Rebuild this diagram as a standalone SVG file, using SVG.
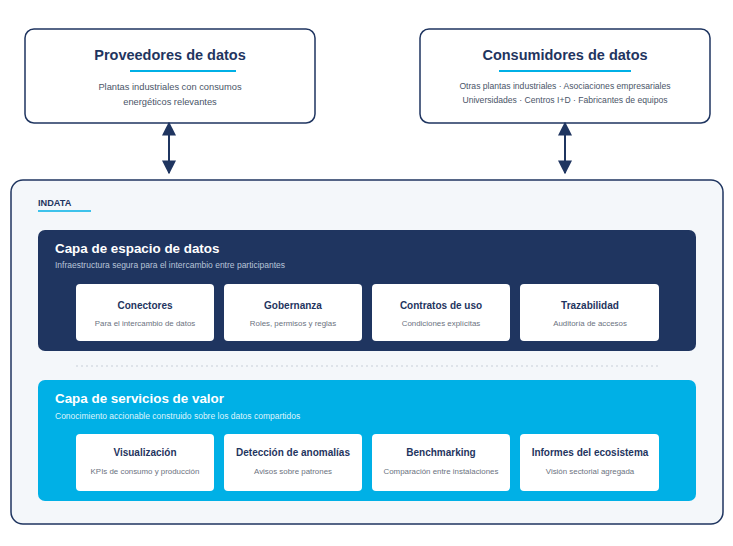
<svg xmlns="http://www.w3.org/2000/svg" width="733" height="546" viewBox="0 0 733 546">
<style>
text{font-family:"Liberation Sans",Arial,sans-serif}
.top{fill:#fff;stroke:#1f3560;stroke-width:1.5}
.ttl{font-size:14.5px;font-weight:bold;fill:#1f3560;text-anchor:middle}
.tsub{font-size:9.3px;fill:#4a5568;text-anchor:middle}
.card{fill:#fff}
.ct{font-size:10px;font-weight:bold;fill:#1f3560;text-anchor:middle}
.cs{font-size:7.9px;fill:#6b7280;text-anchor:middle}
.lt{font-size:13.4px;font-weight:bold;fill:#fff}
.conn{stroke:#1f3560;stroke-width:2;fill:none;marker-start:url(#a);marker-end:url(#a)}
</style>
<defs>
<marker id="a" viewBox="0 0 10 10" refX="9" refY="5" markerWidth="7" markerHeight="7" orient="auto-start-reverse"><path d="M0,0L10,5L0,10z" fill="#1f3560"/></marker>
</defs>
<rect width="733" height="546" fill="#fff"/>
<g id="proveedores">
<rect class="top" x="25" y="29" width="290" height="94" rx="9"/>
<text class="ttl" x="170" y="60">Proveedores de datos</text>
<line x1="130" y1="71" x2="236" y2="71" stroke="#00b0e6" stroke-width="2"/>
<text class="tsub" x="170" y="90">Plantas industriales con consumos</text>
<text class="tsub" x="170" y="105">energéticos relevantes</text>
</g>
<g id="consumidores">
<rect class="top" x="420" y="29" width="290" height="94" rx="9"/>
<text class="ttl" x="565" y="60">Consumidores de datos</text>
<line x1="499" y1="71" x2="631" y2="71" stroke="#00b0e6" stroke-width="2"/>
<text class="tsub" x="565" y="89" style="font-size:8.6px">Otras plantas industriales · Asociaciones empresariales</text>
<text class="tsub" x="565" y="103" style="font-size:8.6px">Universidades · Centros I+D · Fabricantes de equipos</text>
</g>
<g id="connectors">
<line class="conn" x1="169" y1="123" x2="169" y2="173"/>
<line class="conn" x1="565" y1="123" x2="565" y2="173"/>
</g>
<g id="indata">
<rect x="11" y="180" width="712" height="344" rx="12" fill="#f4f7fa" stroke="#1f3560" stroke-width="1.5"/>
<text x="38" y="206" font-size="9.2" font-weight="bold" fill="#1f3560">INDATA</text>
<line x1="38" y1="211" x2="91" y2="211" stroke="#00b0e6" stroke-width="1.5"/>
<line x1="76" y1="366" x2="658" y2="366" stroke="#c8cfd8" stroke-width="1" stroke-dasharray="2,3"/>
</g>
<g id="capa-espacio">
<rect x="38" y="230" width="658" height="121" rx="7" fill="#1f3560"/>
<text class="lt" x="55" y="253">Capa de espacio de datos</text>
<text x="55" y="268" font-size="8.5" fill="#b8c4d8">Infraestructura segura para el intercambio entre participantes</text>
</g>
<g id="conectores"><rect class="card" x="76" y="284" width="138" height="57" rx="4"/><text class="ct" x="145" y="309">Conectores</text><text class="cs" x="145" y="326">Para el intercambio de datos</text></g>
<g id="gobernanza"><rect class="card" x="224" y="284" width="138" height="57" rx="4"/><text class="ct" x="293" y="309">Gobernanza</text><text class="cs" x="293" y="326">Roles, permisos y reglas</text></g>
<g id="contratos"><rect class="card" x="372" y="284" width="138" height="57" rx="4"/><text class="ct" x="441" y="309">Contratos de uso</text><text class="cs" x="441" y="326">Condiciones explícitas</text></g>
<g id="trazabilidad"><rect class="card" x="520" y="284" width="139" height="57" rx="4"/><text class="ct" x="590" y="309">Trazabilidad</text><text class="cs" x="590" y="326">Auditoría de accesos</text></g>
<g id="capa-servicios">
<rect x="38" y="380" width="658" height="121" rx="7" fill="#00b0e6"/>
<text class="lt" x="55" y="403">Capa de servicios de valor</text>
<text x="55" y="419" font-size="8.5" fill="#dff4fc">Conocimiento accionable construido sobre los datos compartidos</text>
</g>
<g id="visualizacion"><rect class="card" x="76" y="434" width="138" height="57" rx="4"/><text class="ct" x="145" y="456">Visualización</text><text class="cs" x="145" y="474">KPIs de consumo y producción</text></g>
<g id="deteccion"><rect class="card" x="224" y="434" width="138" height="57" rx="4"/><text class="ct" x="293" y="456">Detección de anomalías</text><text class="cs" x="293" y="474">Avisos sobre patrones</text></g>
<g id="benchmarking"><rect class="card" x="372" y="434" width="138" height="57" rx="4"/><text class="ct" x="441" y="456">Benchmarking</text><text class="cs" x="441" y="474">Comparación entre instalaciones</text></g>
<g id="informes"><rect class="card" x="520" y="434" width="139" height="57" rx="4"/><text class="ct" x="590" y="456">Informes del ecosistema</text><text class="cs" x="590" y="474">Visión sectorial agregada</text></g>
</svg>
